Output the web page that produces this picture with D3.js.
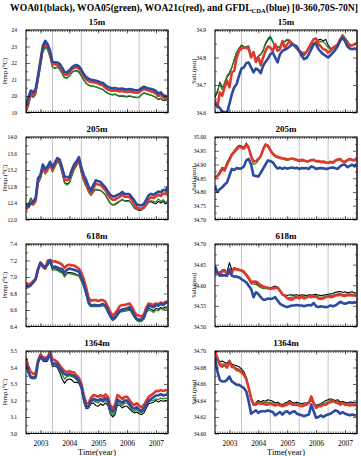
<!DOCTYPE html>
<html>
<head>
<meta charset="utf-8">
<script src="https://cdn.jsdelivr.net/npm/d3@7"></script>
<style>
  body { margin: 0; background: #fff; }
  svg { display: block; }
  text { font-family: "Liberation Serif", "DejaVu Serif", serif; }
</style>
</head>
<body>
<div id="chart"></div>
<script>
// month index 1..60 (Jan 2003 .. Dec 2007)
const months = d3.range(1, 61);
const yearLabels = ["2003", "2004", "2005", "2006", "2007"];
const yearLabelPos = [7, 19, 31, 43, 55];
const yearLines = [12, 24, 36, 48];
const depths = ["15m", "205m", "618m", "1364m"];

// temperature ticks per depth
const tempTicks = [
  [19, 20, 21, 22, 23, 24],
  [12.0, 12.4, 12.8, 13.2, 13.6, 14.0],
  [6.4, 6.6, 6.8, 7.0, 7.2, 7.4],
  [3.0, 3.1, 3.2, 3.3, 3.4, 3.5]
];
const saltTicks = [
  [34.6, 34.7, 34.8, 34.9],
  [34.70, 34.75, 34.80, 34.85, 34.90, 34.95, 35.00],
  [34.50, 34.55, 34.60, 34.65, 34.70],
  [34.60, 34.62, 34.64, 34.66, 34.68, 34.70]
];
const tempFmt = ["d", ".1f", ".1f", ".1f"];
const saltFmt = [".1f", ".2f", ".2f", ".2f"];

// ---- 15m ----
const t15_black = [19.05,19.45,20.05,19.95,20.12,20.95,21.88,22.72,22.98,22.85,22.38,21.76,21.7,21.76,21.63,21.38,21.12,21.1,21.22,21.42,21.52,21.55,21.45,21.22,20.97,20.77,20.67,20.62,20.6,20.56,20.5,20.44,20.38,20.26,20.15,20.1,20.07,20.1,20.02,19.98,20.0,19.96,19.94,19.98,19.95,19.92,19.9,19.92,20.08,20.18,20.13,20.08,20.04,19.98,19.9,19.78,19.85,19.72,19.76,19.7];
const t15_green = [19.02,19.4,20.02,19.9,20.1,20.93,21.83,22.67,22.93,22.8,22.33,21.73,21.67,21.73,21.6,21.35,21.1,21.08,21.2,21.4,21.5,21.52,21.42,21.2,20.95,20.75,20.66,20.6,20.58,20.55,20.5,20.45,20.4,20.28,20.18,20.12,20.1,20.12,20.05,20.02,20.04,20.0,19.98,20.02,19.98,19.95,19.92,19.94,20.1,20.2,20.15,20.1,20.05,20.0,19.93,19.8,19.88,19.75,19.78,19.72];
const t15_red = [19.12,19.64,20.2,20.05,20.3,21.1,22.0,22.9,23.22,23.0,22.6,21.93,21.92,21.88,21.8,21.57,21.3,21.28,21.42,21.6,21.72,21.75,21.66,21.45,21.2,21.0,20.9,20.85,20.84,20.8,20.75,20.68,20.65,20.5,20.4,20.35,20.32,20.34,20.3,20.28,20.3,20.26,20.25,20.28,20.25,20.22,20.2,20.22,20.35,20.42,20.38,20.33,20.28,20.24,20.15,20.0,20.08,19.92,19.86,19.8];
const t15_blue = [19.42,19.92,20.33,20.22,20.43,21.23,22.13,23.04,23.34,23.14,22.73,22.06,22.05,22.03,21.95,21.72,21.45,21.42,21.55,21.72,21.84,21.88,21.8,21.6,21.33,21.15,21.05,20.99,20.97,20.93,20.89,20.82,20.79,20.65,20.55,20.5,20.46,20.48,20.44,20.43,20.45,20.4,20.39,20.42,20.4,20.36,20.35,20.36,20.48,20.56,20.5,20.46,20.42,20.38,20.3,20.15,20.22,20.05,20.0,19.94];

const s15_black = [34.655,34.673,34.710,34.692,34.704,34.728,34.740,34.764,34.794,34.820,34.833,34.845,34.840,34.836,34.840,34.806,34.818,34.794,34.804,34.810,34.824,34.848,34.864,34.872,34.857,34.840,34.836,34.840,34.854,34.857,34.864,34.860,34.852,34.842,34.830,34.820,34.812,34.808,34.818,34.833,34.845,34.852,34.857,34.864,34.866,34.860,34.866,34.845,34.833,34.830,34.840,34.845,34.864,34.881,34.869,34.857,34.848,34.842,34.848,34.852];
const s15_green = [34.661,34.680,34.704,34.683,34.710,34.734,34.746,34.764,34.788,34.818,34.830,34.842,34.836,34.840,34.842,34.808,34.818,34.796,34.806,34.812,34.828,34.854,34.869,34.878,34.860,34.836,34.840,34.836,34.857,34.860,34.866,34.864,34.854,34.845,34.830,34.820,34.808,34.806,34.818,34.830,34.842,34.848,34.854,34.857,34.858,34.857,34.848,34.836,34.830,34.833,34.842,34.848,34.866,34.884,34.872,34.860,34.848,34.845,34.848,34.848];
const s15_red = [34.643,34.619,34.673,34.661,34.692,34.716,34.692,34.746,34.752,34.800,34.824,34.833,34.836,34.836,34.830,34.800,34.820,34.784,34.800,34.772,34.800,34.824,34.840,34.836,34.824,34.848,34.824,34.830,34.860,34.836,34.848,34.860,34.848,34.842,34.833,34.824,34.818,34.816,34.820,34.836,34.852,34.866,34.869,34.848,34.840,34.830,34.828,34.818,34.824,34.836,34.840,34.848,34.866,34.878,34.864,34.852,34.842,34.845,34.848,34.854];
const s15_blue = [34.631,34.625,34.616,34.604,34.600,34.600,34.631,34.667,34.692,34.704,34.734,34.760,34.764,34.780,34.782,34.764,34.746,34.760,34.755,34.743,34.770,34.784,34.796,34.812,34.818,34.800,34.782,34.812,34.824,34.828,34.833,34.840,34.848,34.845,34.840,34.824,34.806,34.794,34.798,34.812,34.830,34.848,34.848,34.830,34.820,34.812,34.806,34.800,34.808,34.818,34.828,34.842,34.860,34.872,34.860,34.840,34.833,34.830,34.833,34.828];

// ---- 205m ----
const t205_black = [12.3,12.36,12.52,12.42,12.5,12.9,13.0,13.24,13.12,13.2,13.34,13.17,13.29,13.42,13.36,13.14,12.9,12.86,12.9,13.06,13.22,13.31,13.42,13.14,12.94,12.8,12.68,12.62,12.7,12.72,12.71,12.7,12.65,12.59,12.48,12.39,12.35,12.36,12.4,12.44,12.48,12.45,12.46,12.45,12.37,12.28,12.24,12.22,12.23,12.27,12.34,12.42,12.43,12.4,12.38,12.44,12.4,12.44,12.38,12.42];
const t205_green = [12.32,12.38,12.5,12.4,12.48,12.88,12.98,13.22,13.1,13.18,13.32,13.15,13.27,13.4,13.34,13.12,12.88,12.84,12.88,13.05,13.2,13.3,13.4,13.12,12.92,12.8,12.66,12.58,12.66,12.74,12.72,12.71,12.66,12.6,12.5,12.4,12.36,12.38,12.42,12.45,12.5,12.44,12.44,12.44,12.38,12.3,12.25,12.24,12.24,12.28,12.35,12.44,12.46,12.44,12.42,12.5,12.44,12.48,12.42,12.46];
const t205_red = [12.25,12.3,12.42,12.36,12.45,12.92,13.05,13.28,13.15,13.22,13.36,13.2,13.32,13.45,13.4,13.2,12.97,12.95,12.98,13.14,13.27,13.36,13.45,13.2,13.0,12.88,12.72,12.64,12.76,12.87,12.85,12.84,12.77,12.71,12.6,12.52,12.48,12.48,12.52,12.55,12.6,12.55,12.55,12.54,12.47,12.38,12.29,12.27,12.26,12.3,12.4,12.5,12.54,12.52,12.56,12.6,12.57,12.63,12.62,12.7];
const t205_blue = [12.38,12.32,12.38,12.43,12.52,13.0,13.08,13.33,13.22,13.29,13.4,13.26,13.38,13.49,13.45,13.26,13.04,13.03,13.02,13.2,13.33,13.41,13.51,13.26,13.08,12.96,12.8,12.7,12.84,12.95,12.93,12.91,12.84,12.78,12.68,12.6,12.56,12.56,12.6,12.62,12.67,12.62,12.62,12.61,12.54,12.46,12.36,12.35,12.34,12.38,12.48,12.59,12.62,12.6,12.64,12.68,12.66,12.72,12.7,12.8];

const s205_black = [34.853,34.86,34.875,34.89,34.884,34.908,34.924,34.94,34.95,34.962,34.97,34.967,34.962,34.978,34.965,34.932,34.913,34.912,34.92,34.932,34.958,34.975,34.97,34.955,34.94,34.93,34.926,34.924,34.922,34.92,34.917,34.92,34.922,34.919,34.915,34.912,34.915,34.914,34.911,34.912,34.916,34.916,34.912,34.912,34.909,34.91,34.907,34.905,34.909,34.906,34.914,34.917,34.92,34.912,34.909,34.915,34.92,34.916,34.915,34.922];
const s205_green = [34.855,34.862,34.874,34.888,34.882,34.905,34.92,34.938,34.95,34.96,34.968,34.965,34.96,34.975,34.962,34.925,34.9,34.904,34.915,34.928,34.953,34.97,34.965,34.95,34.936,34.928,34.925,34.921,34.92,34.918,34.915,34.918,34.92,34.917,34.914,34.91,34.914,34.912,34.91,34.91,34.914,34.914,34.91,34.91,34.907,34.908,34.905,34.904,34.907,34.905,34.912,34.915,34.918,34.91,34.907,34.913,34.918,34.914,34.913,34.92];
const s205_red = [34.851,34.858,34.868,34.884,34.878,34.9,34.917,34.935,34.945,34.955,34.965,34.962,34.958,34.972,34.96,34.93,34.911,34.913,34.92,34.93,34.955,34.972,34.968,34.952,34.94,34.932,34.928,34.925,34.923,34.922,34.918,34.92,34.922,34.92,34.917,34.914,34.917,34.915,34.912,34.913,34.916,34.917,34.912,34.913,34.91,34.911,34.908,34.906,34.91,34.907,34.915,34.918,34.92,34.912,34.91,34.916,34.92,34.917,34.916,34.922];
const s205_blue = [34.82,34.80,34.81,34.817,34.827,34.835,34.86,34.884,34.88,34.887,34.885,34.886,34.893,34.915,34.92,34.9,34.86,34.858,34.856,34.87,34.885,34.9,34.915,34.912,34.908,34.895,34.885,34.889,34.884,34.888,34.885,34.887,34.889,34.886,34.888,34.884,34.887,34.886,34.887,34.884,34.893,34.89,34.884,34.886,34.887,34.886,34.884,34.885,34.888,34.889,34.886,34.884,34.893,34.899,34.9,34.89,34.895,34.899,34.893,34.903];

// ---- 618m ----
const t618_black = [6.88,6.88,6.9,6.935,6.97,7.09,7.17,7.13,7.11,7.15,7.19,7.1,7.1,7.09,7.08,7.06,7.02,7.05,7.055,7.05,7.045,7.03,7.02,6.96,6.89,6.79,6.68,6.645,6.65,6.645,6.645,6.65,6.66,6.64,6.58,6.52,6.48,6.5,6.54,6.58,6.59,6.6,6.6,6.61,6.57,6.52,6.48,6.47,6.47,6.5,6.58,6.62,6.61,6.59,6.62,6.61,6.63,6.62,6.64,6.63];
const t618_green = [6.86,6.87,6.89,6.93,6.96,7.08,7.16,7.12,7.1,7.14,7.18,7.08,7.09,7.08,7.06,7.05,7.0,7.04,7.04,7.035,7.03,7.02,7.01,6.95,6.88,6.78,6.67,6.64,6.645,6.64,6.64,6.645,6.655,6.63,6.57,6.51,6.47,6.49,6.53,6.57,6.58,6.585,6.59,6.6,6.56,6.51,6.47,6.46,6.46,6.49,6.57,6.6,6.59,6.57,6.6,6.59,6.62,6.6,6.62,6.6];
const t618_red = [6.93,6.91,6.92,6.95,6.98,7.09,7.17,7.12,7.1,7.2,7.2,7.19,7.19,7.18,7.17,7.15,7.11,7.14,7.15,7.14,7.14,7.12,7.1,7.05,6.97,6.87,6.75,6.71,6.72,6.72,6.71,6.72,6.72,6.7,6.64,6.58,6.53,6.56,6.6,6.65,6.66,6.66,6.67,6.68,6.64,6.58,6.54,6.53,6.52,6.55,6.63,6.68,6.67,6.66,6.68,6.67,6.69,6.68,6.7,6.7];
const t618_blue = [6.894,6.886,6.902,6.934,6.974,7.095,7.175,7.143,7.115,7.155,7.207,7.115,7.127,7.115,7.103,7.095,7.055,7.087,7.103,7.095,7.087,7.075,7.063,6.994,6.914,6.814,6.693,6.653,6.661,6.661,6.653,6.661,6.673,6.653,6.593,6.533,6.492,6.512,6.553,6.593,6.605,6.613,6.621,6.633,6.593,6.533,6.492,6.484,6.484,6.512,6.593,6.653,6.645,6.633,6.661,6.653,6.673,6.661,6.685,6.693];

const s618_black = [34.636,34.63,34.632,34.637,34.638,34.632,34.655,34.637,34.643,34.64,34.639,34.637,34.634,34.626,34.62,34.61,34.606,34.606,34.6,34.597,34.595,34.594,34.595,34.594,34.596,34.598,34.594,34.585,34.578,34.577,34.575,34.577,34.576,34.576,34.577,34.575,34.577,34.576,34.575,34.577,34.576,34.577,34.578,34.576,34.575,34.576,34.577,34.578,34.579,34.58,34.583,34.584,34.585,34.583,34.584,34.582,34.583,34.584,34.581,34.582];
const s618_green = [34.634,34.632,34.63,34.635,34.636,34.63,34.64,34.634,34.64,34.638,34.636,34.634,34.63,34.622,34.614,34.603,34.603,34.602,34.598,34.594,34.592,34.592,34.591,34.59,34.591,34.592,34.592,34.585,34.576,34.573,34.57,34.57,34.571,34.572,34.573,34.571,34.574,34.572,34.572,34.575,34.573,34.574,34.575,34.572,34.571,34.572,34.574,34.575,34.575,34.576,34.578,34.579,34.58,34.578,34.578,34.579,34.579,34.578,34.578,34.579];
const s618_red = [34.631,34.628,34.627,34.633,34.635,34.627,34.629,34.63,34.641,34.638,34.637,34.636,34.633,34.625,34.618,34.607,34.609,34.609,34.605,34.6,34.597,34.595,34.594,34.592,34.592,34.594,34.595,34.587,34.578,34.575,34.569,34.566,34.565,34.569,34.571,34.568,34.572,34.568,34.57,34.573,34.571,34.572,34.573,34.568,34.567,34.568,34.571,34.573,34.571,34.572,34.575,34.576,34.577,34.575,34.574,34.576,34.576,34.575,34.575,34.575];
const s618_blue = [34.647,34.631,34.623,34.624,34.624,34.623,34.639,34.623,34.621,34.621,34.619,34.615,34.611,34.607,34.599,34.591,34.571,34.583,34.579,34.571,34.565,34.565,34.568,34.567,34.568,34.571,34.563,34.555,34.552,34.549,34.547,34.549,34.551,34.551,34.552,34.551,34.551,34.549,34.551,34.552,34.551,34.557,34.549,34.547,34.549,34.548,34.547,34.548,34.551,34.549,34.551,34.555,34.56,34.557,34.555,34.557,34.559,34.557,34.559,34.557];

// ---- 1364m ----
const t1364_black = [3.44,3.37,3.345,3.34,3.345,3.43,3.465,3.44,3.435,3.44,3.475,3.405,3.41,3.4,3.37,3.33,3.305,3.325,3.33,3.325,3.31,3.31,3.305,3.27,3.19,3.15,3.155,3.18,3.185,3.17,3.165,3.18,3.17,3.185,3.17,3.12,3.1,3.115,3.175,3.17,3.155,3.165,3.165,3.15,3.135,3.125,3.13,3.12,3.115,3.125,3.155,3.18,3.185,3.19,3.2,3.19,3.2,3.195,3.2,3.195];
const t1364_green = [3.43,3.38,3.35,3.345,3.35,3.44,3.47,3.445,3.44,3.45,3.48,3.41,3.415,3.41,3.38,3.36,3.33,3.345,3.35,3.345,3.34,3.325,3.31,3.275,3.2,3.155,3.16,3.19,3.2,3.19,3.185,3.2,3.19,3.2,3.185,3.13,3.11,3.13,3.19,3.18,3.17,3.185,3.185,3.165,3.145,3.135,3.145,3.13,3.125,3.14,3.165,3.19,3.2,3.2,3.21,3.205,3.215,3.21,3.215,3.21];
const t1364_red = [3.458,3.404,3.373,3.363,3.363,3.444,3.478,3.464,3.458,3.464,3.494,3.45,3.444,3.434,3.414,3.394,3.378,3.373,3.378,3.373,3.369,3.353,3.337,3.303,3.233,3.183,3.183,3.217,3.233,3.229,3.223,3.233,3.223,3.237,3.223,3.173,3.153,3.173,3.233,3.223,3.209,3.223,3.223,3.203,3.183,3.173,3.183,3.169,3.157,3.173,3.197,3.223,3.233,3.243,3.257,3.257,3.263,3.257,3.263,3.263];
const t1364_blue = [3.425,3.37,3.34,3.335,3.34,3.43,3.465,3.45,3.445,3.455,3.48,3.42,3.425,3.42,3.395,3.375,3.36,3.355,3.36,3.355,3.35,3.335,3.32,3.285,3.215,3.165,3.165,3.195,3.21,3.205,3.2,3.21,3.2,3.215,3.2,3.15,3.13,3.15,3.205,3.195,3.185,3.2,3.2,3.18,3.16,3.15,3.16,3.145,3.135,3.15,3.175,3.2,3.21,3.22,3.23,3.232,3.238,3.23,3.235,3.235];

const s1364_black = [34.7,34.692,34.687,34.688,34.686,34.685,34.689,34.684,34.683,34.682,34.681,34.678,34.675,34.668,34.656,34.642,34.636,34.637,34.64,34.638,34.64,34.639,34.641,34.64,34.639,34.637,34.638,34.636,34.635,34.637,34.638,34.64,34.638,34.637,34.638,34.637,34.636,34.637,34.637,34.638,34.64,34.637,34.634,34.635,34.636,34.638,34.64,34.641,34.642,34.641,34.64,34.641,34.638,34.639,34.638,34.637,34.638,34.638,34.637,34.638];
const s1364_green = [34.7,34.69,34.685,34.684,34.684,34.682,34.688,34.682,34.681,34.679,34.678,34.676,34.673,34.667,34.655,34.641,34.635,34.636,34.638,34.637,34.638,34.637,34.638,34.637,34.637,34.635,34.636,34.635,34.634,34.636,34.636,34.638,34.636,34.636,34.636,34.635,34.634,34.635,34.636,34.637,34.641,34.636,34.632,34.634,34.635,34.636,34.637,34.639,34.64,34.64,34.639,34.639,34.636,34.638,34.636,34.636,34.636,34.636,34.635,34.636];
const s1364_red = [34.701,34.691,34.683,34.681,34.683,34.68,34.687,34.681,34.68,34.677,34.676,34.674,34.671,34.666,34.655,34.643,34.635,34.635,34.637,34.636,34.636,34.635,34.635,34.636,34.635,34.634,34.635,34.634,34.633,34.634,34.635,34.637,34.635,34.635,34.635,34.634,34.633,34.634,34.635,34.637,34.645,34.637,34.631,34.633,34.633,34.635,34.635,34.637,34.638,34.639,34.638,34.637,34.635,34.637,34.635,34.635,34.634,34.635,34.634,34.635];
const s1364_blue = [34.693,34.675,34.665,34.663,34.663,34.665,34.669,34.663,34.661,34.659,34.659,34.657,34.655,34.651,34.639,34.624,34.626,34.628,34.625,34.627,34.627,34.627,34.628,34.627,34.626,34.622,34.624,34.626,34.623,34.626,34.627,34.624,34.626,34.627,34.624,34.623,34.622,34.621,34.622,34.623,34.635,34.627,34.619,34.62,34.622,34.62,34.622,34.623,34.624,34.626,34.628,34.627,34.624,34.626,34.624,34.623,34.622,34.623,34.622,34.622];

const tempData = [
  [t15_black, t15_green, t15_red, t15_blue],
  [t205_black, t205_green, t205_red, t205_blue],
  [t618_black, t618_green, t618_red, t618_blue],
  [t1364_black, t1364_green, t1364_red, t1364_blue]
];
const saltData = [
  [s15_black, s15_green, s15_red, s15_blue],
  [s205_black, s205_green, s205_red, s205_blue],
  [s618_black, s618_green, s618_red, s618_blue],
  [s1364_black, s1364_green, s1364_red, s1364_blue]
];

// series style: black, green, red, blue
const colors = ["#000000", "#2e8b2e", "#e0382c", "#2c4aa0"];
const widths = [1.1, 1.3, 2.6, 2.6];

const W = 361, H = 456;
const svg = d3.select("#chart").append("svg")
  .attr("width", W).attr("height", H);

// main title
const title = svg.append("text")
  .attr("x", 184).attr("y", 11)
  .attr("text-anchor", "middle")
  .attr("font-weight", "bold")
  .attr("font-size", "9.6px");
title.append("tspan").text("WOA01(black), WOA05(green), WOA21c(red), and GFDL");
title.append("tspan").attr("font-size", "6.5px").attr("dy", 2).text("CDA");
title.append("tspan").attr("dy", -2).text("(blue) [0-360,70S-70N]");

const colX = [26, 215];
const rowY = [30, 137, 244, 351];
const pw = 142, ph = 82.5;

const x = d3.scaleLinear().domain([1, 60]).range([0, pw]);

function drawPanel(px, py, row, data, domain, ticks, fmt, ylabel, idx) {
  const g = svg.append("g").attr("transform", `translate(${px},${py})`);
  const y = d3.scaleLinear().domain(domain).range([ph, 0]);

  // depth title
  g.append("text")
    .attr("x", pw / 2).attr("y", -5)
    .attr("text-anchor", "middle")
    .attr("font-weight", "bold")
    .attr("font-size", "9px")
    .text(depths[row]);

  // year grid lines
  g.selectAll(".grid").data(yearLines).enter().append("line")
    .attr("x1", d => x(d)).attr("x2", d => x(d))
    .attr("y1", 0).attr("y2", ph)
    .attr("stroke", "#b5b5b5").attr("stroke-width", 0.8);

  // clip
  g.append("clipPath").attr("id", "clip" + idx)
    .append("rect").attr("width", pw).attr("height", ph);

  const line = d3.line()
    .x((d, i) => x(months[i]))
    .y(d => y(d));

  g.append("g").attr("clip-path", `url(#clip${idx})`)
    .selectAll("path").data(data).enter().append("path")
    .attr("d", line)
    .attr("fill", "none")
    .attr("stroke", (d, i) => colors[i])
    .attr("stroke-width", (d, i) => widths[i])
    .attr("stroke-linejoin", "round");

  // minor y ticks halfway between majors
  const minor = [];
  for (let k = 0; k < ticks.length - 1; k++) minor.push((ticks[k] + ticks[k + 1]) / 2);

  // y axes (inward ticks)
  const yl = g.append("g")
    .call(d3.axisLeft(y).tickValues(ticks).tickFormat(d3.format(fmt))
      .tickSizeInner(-4).tickSizeOuter(0).tickPadding(9));
  yl.select(".domain").remove();
  yl.selectAll("text").attr("font-size", "5.5px")
    .attr("font-family", "Liberation Serif, serif");

  g.append("g")
    .call(d3.axisLeft(y).tickValues(minor).tickFormat("").tickSizeInner(-2).tickSizeOuter(0))
    .select(".domain").remove();

  const yr = g.append("g").attr("transform", `translate(${pw},0)`)
    .call(d3.axisRight(y).tickValues(ticks).tickFormat("").tickSizeInner(-4).tickSizeOuter(0));
  yr.select(".domain").remove();
  g.append("g").attr("transform", `translate(${pw},0)`)
    .call(d3.axisRight(y).tickValues(minor).tickFormat("").tickSizeInner(-2).tickSizeOuter(0))
    .select(".domain").remove();

  // x axes: monthly minor ticks, yearly major ticks, top and bottom
  const xb = g.append("g").attr("transform", `translate(0,${ph})`)
    .call(d3.axisBottom(x).tickValues(months).tickFormat("").tickSizeInner(-2).tickSizeOuter(0));
  xb.select(".domain").remove();
  const xt = g.append("g")
    .call(d3.axisTop(x).tickValues(months).tickFormat("").tickSizeInner(-2).tickSizeOuter(0));
  xt.select(".domain").remove();
  g.append("g")
    .call(d3.axisTop(x).tickValues(yearLabelPos).tickFormat("").tickSizeInner(-3.5).tickSizeOuter(0))
    .select(".domain").remove();

  const xm = g.append("g").attr("transform", `translate(0,${ph})`)
    .call(d3.axisBottom(x).tickValues(yearLabelPos)
      .tickFormat((d, i) => row === 3 ? yearLabels[i] : "")
      .tickSizeInner(-3.5).tickSizeOuter(0).tickPadding(7));
  xm.select(".domain").remove();
  xm.selectAll("text").attr("font-size", "7.5px")
    .attr("font-family", "Liberation Serif, serif");

  g.selectAll(".tick line").attr("stroke", "#000").attr("stroke-width", 0.6);

  // frame, right edge drawn heavier like the original
  g.append("rect")
    .attr("width", pw).attr("height", ph)
    .attr("fill", "none").attr("stroke", "#000").attr("stroke-width", 1);
  g.append("line")
    .attr("x1", pw).attr("x2", pw).attr("y1", 0).attr("y2", ph)
    .attr("stroke", "#444").attr("stroke-width", 1.8);

  // y label
  g.append("text")
    .attr("transform", `translate(-19,${ph / 2}) rotate(-90)`)
    .attr("text-anchor", "middle")
    .attr("font-size", "6.5px")
    .text(ylabel);

  if (row === 3) {
    g.append("text")
      .attr("x", pw / 2).attr("y", ph + 21)
      .attr("text-anchor", "middle")
      .attr("font-size", "8.5px")
      .text("Time(year)");
  }
}

for (let r = 0; r < 4; r++) {
  const tt = tempTicks[r], st = saltTicks[r];
  drawPanel(colX[0], rowY[r], r, tempData[r], [tt[0], tt[tt.length - 1]], tt, tempFmt[r], "Ptmp.(°C)", "t" + r);
  drawPanel(colX[1], rowY[r], r, saltData[r], [st[0], st[st.length - 1]], st, saltFmt[r], "Salt.(psu)", "s" + r);
}
</script>
</body>
</html>
